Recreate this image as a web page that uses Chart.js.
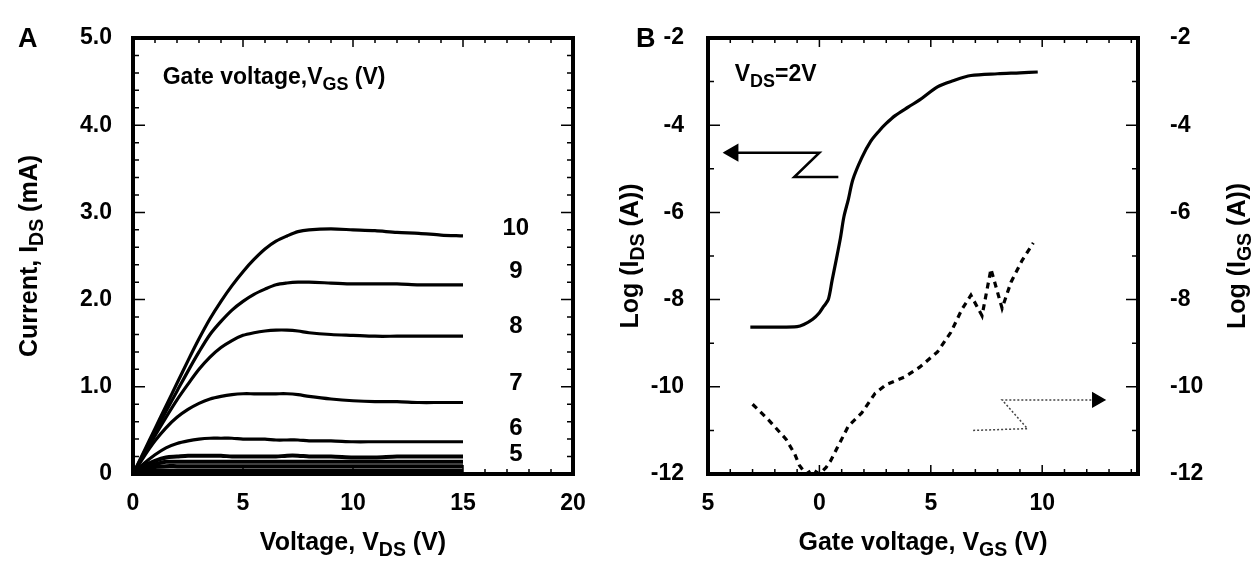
<!DOCTYPE html>
<html>
<head>
<meta charset="utf-8">
<script src="https://cdn.jsdelivr.net/npm/chart.js@4.4.1/dist/chart.umd.min.js"></script>
<style>
  html, body { margin: 0; padding: 0; background: #fff; }
  #painel { position: relative; width: 1259px; height: 573px; overflow: hidden; }
  #graficoA { position: absolute; left: 0; top: 0; }
  #graficoB { position: absolute; left: 600px; top: 0; }
</style>
</head>
<body>
<div id="painel">
  <canvas id="graficoA" width="600" height="573" style="width:600px;height:573px"></canvas>
  <canvas id="graficoB" width="659" height="573" style="width:659px;height:573px"></canvas>
</div>
<script>
// ---- Painel A: I_DS x V_DS para cada V_GS ----
const vds = [0, 0.5, 1, 1.5, 2, 2.5, 3, 3.5, 4, 4.5, 5, 5.5, 6, 6.5, 7, 7.5, 8, 9, 10, 11, 12, 13, 14, 15];
const ids10 = [0, 0.26, 0.52, 0.78, 1.04, 1.3, 1.55, 1.78, 1.98, 2.16, 2.32, 2.46, 2.58, 2.67, 2.73, 2.78, 2.8, 2.81, 2.8, 2.79, 2.77, 2.76, 2.74, 2.73];
const ids9 = [0, 0.24, 0.48, 0.72, 0.95, 1.18, 1.4, 1.6, 1.75, 1.88, 1.98, 2.06, 2.12, 2.17, 2.19, 2.2, 2.2, 2.19, 2.18, 2.18, 2.18, 2.17, 2.17, 2.17];
const ids8 = [0, 0.22, 0.44, 0.65, 0.85, 1.03, 1.2, 1.34, 1.45, 1.53, 1.59, 1.62, 1.64, 1.65, 1.65, 1.64, 1.62, 1.6, 1.59, 1.58, 1.58, 1.58, 1.58, 1.58];
const ids7 = [0, 0.2, 0.38, 0.53, 0.65, 0.74, 0.81, 0.86, 0.89, 0.91, 0.92, 0.92, 0.92, 0.92, 0.92, 0.91, 0.89, 0.86, 0.84, 0.83, 0.83, 0.82, 0.82, 0.82];
const ids6 = [0, 0.12, 0.22, 0.3, 0.35, 0.38, 0.4, 0.41, 0.41, 0.41, 0.4, 0.4, 0.4, 0.39, 0.39, 0.39, 0.38, 0.38, 0.37, 0.37, 0.37, 0.37, 0.37, 0.37];
const ids5 = [0, 0.09, 0.15, 0.19, 0.2, 0.21, 0.21, 0.21, 0.21, 0.2, 0.2, 0.2, 0.2, 0.2, 0.21, 0.21, 0.2, 0.2, 0.19, 0.19, 0.2, 0.2, 0.2, 0.2];
const ids4 = [0, 0.07, 0.11, 0.14, 0.14, 0.14, 0.14, 0.14, 0.14, 0.14, 0.14, 0.14, 0.14, 0.14, 0.14, 0.14, 0.14, 0.14, 0.14, 0.14, 0.14, 0.14, 0.14, 0.14];
const ids3 = [0, 0.05, 0.08, 0.09, 0.09, 0.09, 0.09, 0.09, 0.09, 0.09, 0.09, 0.09, 0.09, 0.09, 0.09, 0.09, 0.09, 0.09, 0.09, 0.09, 0.09, 0.09, 0.09, 0.09];
const ids2 = [0, 0.03, 0.04, 0.04, 0.04, 0.04, 0.04, 0.04, 0.04, 0.04, 0.04, 0.04, 0.04, 0.04, 0.04, 0.04, 0.04, 0.04, 0.04, 0.04, 0.04, 0.04, 0.04, 0.04];

// rótulos de V_GS ao lado das curvas
const rotulosVgs = ['10', '9', '8', '7', '6', '5'];
const posRotuloX = 17.4;
const posRotuloY = [2.82, 2.32, 1.69, 1.04, 0.52, 0.22];

// ticks do painel A
const ticksXA = [0, 5, 10, 15, 20];
const rotulosXA = ['0', '5', '10', '15', '20'];
const ticksYA = [0, 1, 2, 3, 4, 5];
const rotulosYA = ['0', '1.0', '2.0', '3.0', '4.0', '5.0'];

// ---- Painel B: log(I_DS) e log(I_GS) x V_GS ----
const vgsIds = [-3.1, -2, -1, -0.7, -0.3, 0, 0.2, 0.4, 0.57, 0.75, 0.94, 1.1, 1.3, 1.5, 1.9, 2.3, 2.7, 3.0, 3.4, 4.0, 4.5, 5.3, 6.0, 6.8, 8.0, 9.0, 9.8];
const logIds = [-8.63, -8.63, -8.62, -8.57, -8.45, -8.3, -8.15, -8.0, -7.56, -7.1, -6.6, -6.1, -5.7, -5.25, -4.75, -4.37, -4.12, -3.96, -3.78, -3.58, -3.42, -3.12, -2.98, -2.86, -2.82, -2.8, -2.78];
const vgsIgs = [-3, -2.3, -1.5, -1.1, -0.9, -0.6, -0.3, 0, 0.3, 0.5, 0.8, 1.3, 1.9, 2.5, 3, 3.8, 4.5, 5.3, 5.9, 6.4, 6.8, 7.3, 7.7, 8.2, 8.6, 9.1, 9.6];
const logIgs = [-10.4, -10.75, -11.2, -11.55, -11.8, -12.0, -11.9, -12.0, -11.85, -11.7, -11.4, -10.9, -10.6, -10.15, -9.95, -9.78, -9.55, -9.2, -8.75, -8.22, -7.9, -8.37, -7.3, -8.2, -7.6, -7.1, -6.7];

// setas indicando o eixo de cada curva
const setaEsqX = [0.85, -1.13, 0, -3.87];
const setaEsqY = [-5.19, -5.19, -4.63, -4.63];
const setaDirX = [6.9, 9.34, 8.2, 12.45];
const setaDirY = [-11.0, -10.96, -10.3, -10.3];

// ticks do painel B
const ticksXB = [-5, 0, 5, 10];
const rotulosXB = ['5', '0', '5', '10'];
const ticksYB = [-12, -10, -8, -6, -4, -2];
const rotulosYB = ['-12', '-10', '-8', '-6', '-4', '-2'];

const FONTE = '"Liberation Sans", Arial, sans-serif';
const TOPO = 38;
const BASE = 474;

function pares(xs, ys) {
    return xs.map((x, i) => ({ x: x, y: ys[i] }));
}

// escreve texto com partes em subscrito
function textoComIndice(ctx, partes, x, y, tam, alinhar) {
    let largura = 0;
    partes.forEach(p => {
        ctx.font = 'bold ' + (p[1] ? tam * 0.78 : tam) + 'px ' + FONTE;
        largura += ctx.measureText(p[0]).width;
    });
    let xi = alinhar === 'center' ? x - largura / 2 : x;
    ctx.textAlign = 'left';
    ctx.textBaseline = 'middle';
    partes.forEach(p => {
        ctx.font = 'bold ' + (p[1] ? tam * 0.78 : tam) + 'px ' + FONTE;
        ctx.fillText(p[0], xi, p[1] ? y + tam * 0.32 : y);
        xi += ctx.measureText(p[0]).width;
    });
}

// moldura com ticks para dentro
function desenhaMoldura(chart, cfg) {
    const ctx = chart.ctx;
    const a = chart.chartArea;
    const sx = chart.scales.x;
    const sy = chart.scales.y;
    ctx.save();
    ctx.strokeStyle = '#000';
    ctx.lineWidth = 1.5;
    ctx.beginPath();
    for (let v = Math.ceil(sx.min); v <= sx.max + 1e-6; v += cfg.menorX) {
        const px = sx.getPixelForValue(v);
        const grande = Math.abs(v / cfg.maiorX - Math.round(v / cfg.maiorX)) < 1e-6;
        const t = grande ? 9 : 5;
        ctx.moveTo(px, a.bottom); ctx.lineTo(px, a.bottom - t);
        ctx.moveTo(px, a.top); ctx.lineTo(px, a.top + t);
    }
    for (let v = sy.min; v <= sy.max + 1e-6; v += cfg.menorY) {
        const py = sy.getPixelForValue(v);
        const grande = Math.abs(v / cfg.maiorY - Math.round(v / cfg.maiorY)) < 1e-6;
        const t = grande ? 12 : 6;
        ctx.moveTo(a.left, py); ctx.lineTo(a.left + t, py);
        ctx.moveTo(a.right, py); ctx.lineTo(a.right - t, py);
    }
    ctx.stroke();
    ctx.lineWidth = 4;
    ctx.strokeRect(a.left, a.top, a.right - a.left, a.bottom - a.top);
    ctx.restore();
}

function eixoFixo(tamanho, horizontal) {
    return function (scale) {
        if (horizontal) scale.height = tamanho; else scale.width = tamanho;
    };
}

function ticksFixos(valores) {
    return function (scale) {
        scale.ticks = valores.map(v => ({ value: v }));
    };
}

const fonteTick = { family: FONTE, size: 23, weight: 'bold' };

// ---------------- gráfico A ----------------
function linhaA(dados, largura) {
    return {
        data: pares(vds, dados),
        borderColor: '#000',
        borderWidth: largura,
        pointRadius: 0,
        showLine: true,
        tension: 0.3,
        fill: false
    };
}

const pluginA = {
    id: 'textosA',
    afterDatasetsDraw(chart) {
        const ctx = chart.ctx;
        const a = chart.chartArea;
        const sx = chart.scales.x;
        const sy = chart.scales.y;
        desenhaMoldura(chart, { menorX: 1, maiorX: 5, menorY: 0.2, maiorY: 1 });
        ctx.save();
        ctx.fillStyle = '#000';
        // rótulos das curvas
        ctx.font = 'bold 24px ' + FONTE;
        ctx.textAlign = 'center';
        ctx.textBaseline = 'middle';
        rotulosVgs.forEach((r, i) => {
            ctx.fillText(r, sx.getPixelForValue(posRotuloX), sy.getPixelForValue(posRotuloY[i]));
        });
        textoComIndice(ctx, [['Gate voltage,V', 0], ['GS', 1], [' (V)', 0]], sx.getPixelForValue(1.35), sy.getPixelForValue(4.55), 23, 'left');
        // títulos dos eixos
        textoComIndice(ctx, [['Voltage, V', 0], ['DS', 1], [' (V)', 0]], (a.left + a.right) / 2, 543, 25, 'center');
        ctx.save();
        ctx.translate(30, (a.top + a.bottom) / 2);
        ctx.rotate(-Math.PI / 2);
        textoComIndice(ctx, [['Current, I', 0], ['DS', 1], [' (mA)', 0]], 0, 0, 25, 'center');
        ctx.restore();
        ctx.font = 'bold 27px ' + FONTE;
        ctx.textAlign = 'left';
        ctx.fillText('A', 18, 40);
        ctx.restore();
    }
};

const graficoA = new Chart(document.getElementById('graficoA'), {
    type: 'scatter',
    data: {
        datasets: [linhaA(ids10, 3.2), linhaA(ids9, 3.2), linhaA(ids8, 3.2), linhaA(ids7, 3.2), linhaA(ids6, 3.2),
                   linhaA(ids5, 4), linhaA(ids4, 4), linhaA(ids3, 4), linhaA(ids2, 4)]
    },
    options: {
        responsive: false,
        animation: false,
        layout: { padding: { top: TOPO, right: 27, left: 0, bottom: 0 } },
        plugins: { legend: { display: false }, tooltip: { enabled: false } },
        scales: {
            x: {
                type: 'linear', min: 0, max: 20,
                grid: { display: false }, border: { display: false },
                afterFit: eixoFixo(573 - BASE, true),
                afterBuildTicks: ticksFixos(ticksXA),
                ticks: { color: '#000', font: fonteTick, padding: 8, maxRotation: 0, callback: (v, i) => rotulosXA[i] }
            },
            y: {
                type: 'linear', min: 0, max: 5,
                grid: { display: false }, border: { display: false },
                afterFit: eixoFixo(133, false),
                afterBuildTicks: ticksFixos(ticksYA),
                ticks: { color: '#000', font: fonteTick, padding: 13, callback: (v, i) => rotulosYA[i] }
            }
        }
    },
    plugins: [pluginA]
});

// ---------------- gráfico B ----------------
const pluginB = {
    id: 'textosB',
    afterDatasetsDraw(chart) {
        const ctx = chart.ctx;
        const a = chart.chartArea;
        const sx = chart.scales.x;
        const sy = chart.scales.y;
        desenhaMoldura(chart, { menorX: 1, maiorX: 5, menorY: 1, maiorY: 2 });
        ctx.save();
        ctx.fillStyle = '#000';
        textoComIndice(ctx, [['V', 0], ['DS', 1], ['=2V', 0]], sx.getPixelForValue(-3.8), sy.getPixelForValue(-2.85), 23, 'left');
        textoComIndice(ctx, [['Gate voltage, V', 0], ['GS', 1], [' (V)', 0]], (a.left + a.right) / 2, 543, 25, 'center');
        ctx.save();
        ctx.translate(31, (a.top + a.bottom) / 2);
        ctx.rotate(-Math.PI / 2);
        textoComIndice(ctx, [['Log (I', 0], ['DS', 1], [' (A))', 0]], 0, 0, 25, 'center');
        ctx.restore();
        ctx.save();
        ctx.translate(638, (a.top + a.bottom) / 2);
        ctx.rotate(-Math.PI / 2);
        textoComIndice(ctx, [['Log (I', 0], ['GS', 1], [' (A))', 0]], 0, 0, 25, 'center');
        ctx.restore();
        ctx.font = 'bold 27px ' + FONTE;
        ctx.textAlign = 'left';
        ctx.fillText('B', 36, 40);
        ctx.restore();
    }
};

const graficoB = new Chart(document.getElementById('graficoB'), {
    type: 'scatter',
    data: {
        datasets: [
            {
                data: pares(vgsIds, logIds), yAxisID: 'y',
                borderColor: '#000', borderWidth: 3.2, pointRadius: 0, showLine: true, tension: 0.3
            },
            {
                data: pares(vgsIgs, logIgs), yAxisID: 'y2',
                borderColor: '#000', borderWidth: 3.2, borderDash: [6, 5], pointRadius: 0, showLine: true, tension: 0
            },
            {
                data: pares(setaEsqX, setaEsqY), yAxisID: 'y',
                borderColor: '#000', borderWidth: 2.5, showLine: true, tension: 0,
                pointRadius: [0, 0, 0, 8], pointStyle: 'triangle', rotation: -90,
                pointBackgroundColor: '#000', pointBorderColor: '#000'
            },
            {
                data: pares(setaDirX, setaDirY), yAxisID: 'y2',
                borderColor: '#444', borderWidth: 1.5, borderDash: [2, 2], showLine: true, tension: 0,
                pointRadius: [0, 0, 0, 8], pointStyle: 'triangle', rotation: 90,
                pointBackgroundColor: '#000', pointBorderColor: '#000'
            }
        ]
    },
    options: {
        responsive: false,
        animation: false,
        layout: { padding: { top: TOPO, right: 0, left: 0, bottom: 0 } },
        plugins: { legend: { display: false }, tooltip: { enabled: false } },
        scales: {
            x: {
                type: 'linear', min: -5, max: 14.3,
                grid: { display: false }, border: { display: false },
                afterFit: eixoFixo(573 - BASE, true),
                afterBuildTicks: ticksFixos(ticksXB),
                ticks: { color: '#000', font: fonteTick, padding: 8, maxRotation: 0, callback: (v, i) => rotulosXB[i] }
            },
            y: {
                type: 'linear', position: 'left', min: -12, max: -2,
                grid: { display: false }, border: { display: false },
                afterFit: eixoFixo(108, false),
                afterBuildTicks: ticksFixos(ticksYB),
                ticks: { color: '#000', font: fonteTick, padding: 16, callback: (v, i) => rotulosYB[i] }
            },
            y2: {
                type: 'linear', position: 'right', min: -12, max: -2,
                grid: { display: false }, border: { display: false },
                afterFit: eixoFixo(121, false),
                afterBuildTicks: ticksFixos(ticksYB),
                ticks: { color: '#000', font: fonteTick, padding: 24, callback: (v, i) => rotulosYB[i] }
            }
        }
    },
    plugins: [pluginB]
});
</script>
</body>
</html>
